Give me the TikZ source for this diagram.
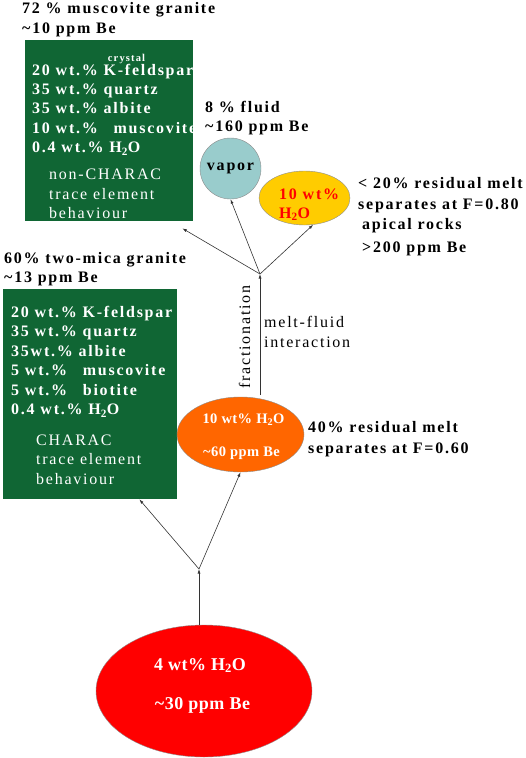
\documentclass[tikz,border=0pt]{standalone}
\usepackage{fontspec}
\setmainfont{Liberation Serif}[LetterSpace=11]
\usetikzlibrary{shapes.geometric,arrows.meta}

\definecolor{granitegreen}{RGB}{16,102,52}
\definecolor{vaporblue}{RGB}{153,204,204}
\definecolor{fluidgold}{RGB}{255,204,0}
\definecolor{meltorange}{RGB}{255,102,0}
\definecolor{meltred}{RGB}{255,0,0}

\newcommand{\water}{H\textsubscript{2}O}

\begin{document}
\begin{tikzpicture}[x=1pt, y=-1pt,
    txt/.style={inner sep=0pt, anchor=base west, font=\fontsize{16}{19}\selectfont},
    boldtxt/.style={txt, font=\fontsize{16}{19}\selectfont\bfseries},
    granite/.style={fill=granitegreen, inner sep=0pt, anchor=north west},
    meltshape/.style={ellipse, draw=black!45, line width=0.4pt, inner sep=0pt},
    arr/.style={draw=black!80, line width=0.6pt, -{Latex[length=4.5pt,width=3pt]}}]

    \useasboundingbox (0,0) rectangle (526,758);

    % Upper granite: muscovite granite
    \node[boldtxt] (mus-title) at (22,13) {72 \% muscovite granite};
    \node[boldtxt] (mus-be) at (22,33) {\textasciitilde10 ppm Be};
    \node[granite, minimum width=168pt, minimum height=181pt] (musbox) at (25,40) {};
    \node[inner sep=0pt, anchor=base, white, font=\fontsize{10.5}{12}\selectfont\bfseries] (mus-crystal) at (126.5,61) {crystal};
    \foreach \line [count=\i] in {20 wt.\% K-feldspar, 35 wt.\% quartz, 35 wt.\% albite,
        10 wt.\%\hspace{10pt} muscovite, 0.4 wt.\% \water}
        \node[boldtxt, white] (mus-\i) at (32, 75+19.4*\i-19.4) {\line};
    \foreach \line [count=\i] in {non-CHARAC, trace element, behaviour}
        \node[txt, white] (mus-note-\i) at (49, 179.5+19.5*\i-19.5) {\line};

    % Lower granite: two-mica granite
    \node[boldtxt] (two-title) at (4,263) {60\% two-mica granite};
    \node[boldtxt] (two-be) at (4,282) {\textasciitilde13 ppm Be};
    \node[granite, minimum width=174pt, minimum height=210pt] (twobox) at (3,289) {};
    \foreach \line [count=\i] in {20 wt.\% K-feldspar, 35 wt.\% quartz, 35wt.\% albite,
        5 wt.\%\hspace{10pt} muscovite, 5 wt.\%\hspace{10pt} biotite, 0.4 wt.\% \water}
        \node[boldtxt, white] (two-\i) at (11, 317+19.5*\i-19.5) {\line};
    \foreach \line [count=\i] in {CHARAC, trace element, behaviour}
        \node[txt, white] (two-note-\i) at (36, 445+19.5*\i-19.5) {\line};

    % Fluid phases
    \node[boldtxt] (fl-title) at (205,112) {8 \% fluid};
    \node[boldtxt] (fl-be) at (205,131) {\textasciitilde160 ppm Be};
    \node[circle, fill=vaporblue, draw=black!45, line width=0.4pt, minimum size=61pt,
        inner sep=0pt, font=\fontsize{16}{19}\selectfont\bfseries] (vapor) at (230.5,168.5) {vapor};
    \node[meltshape, fill=fluidgold, minimum width=91pt, minimum height=54pt] (fluid) at (304.5,198) {};
    \node[boldtxt, meltred] (fluid-wt) at (279,199) {10 wt\%};
    \node[boldtxt, meltred] (fluid-h2o) at (279,218) {\water};

    \node[boldtxt] (res1-a) at (358,188.5) {< 20\% residual melt};
    \node[boldtxt] (res1-b) at (358,209) {separates at F=0.80};
    \node[boldtxt] (apical-a) at (362,229.5) {apical rocks};
    \node[boldtxt] (apical-b) at (362,252) {>200 ppm Be};

    % Residual melt
    \node[meltshape, fill=meltorange, minimum width=127pt, minimum height=75pt] (residue) at (240.5,434.5) {};
    \node[inner sep=0pt, anchor=base, white, font=\fontsize{14.5}{17}\selectfont\bfseries\addfontfeature{LetterSpace=3}]
        (residue-wt) at (243.5,423) {10 wt\% \water};
    \node[inner sep=0pt, anchor=base, white, font=\fontsize{14.5}{17}\selectfont\bfseries\addfontfeature{LetterSpace=3}]
        (residue-be) at (241.5,456) {\textasciitilde60 ppm Be};
    \node[boldtxt] (res2-a) at (308,432.5) {40\% residual melt};
    \node[boldtxt] (res2-b) at (308,453) {separates at F=0.60};

    \node[txt] (mf-a) at (264,327) {melt-fluid};
    \node[txt] (mf-b) at (264,347) {interaction};
    \node[txt, rotate=90, anchor=base] (frac) at (250,337) {fractionation};

    % Source melt
    \node[meltshape, fill=meltred, minimum width=216pt, minimum height=132pt] (source) at (204,691) {};
    \node[inner sep=0pt, anchor=base, white, font=\fontsize{18}{21}\selectfont\bfseries\addfontfeature{LetterSpace=3}]
        (source-wt) at (200,670) {4 wt\% \water};
    \node[inner sep=0pt, anchor=base, white, font=\fontsize{18}{21}\selectfont\bfseries\addfontfeature{LetterSpace=3}]
        (source-be) at (202.5,709) {\textasciitilde30 ppm Be};

    % Branch points and connectors
    \coordinate (split-top) at (260,274);
    \coordinate (split-low) at (199,569);
    \coordinate (frac-foot) at (260,395);

    \draw[arr] (frac-foot) -- (split-top);
    \draw[arr] (split-top) -- ([shift={(-11,7)}]musbox.south east);
    \draw[arr] (split-top) -- (vapor.south);
    \draw[arr] (split-top) -- (fluid.-72);

    \draw[arr] (source.north -| split-low) -- (split-low);
    \draw[arr] (split-low) -- ([xshift=-38pt]twobox.south east);
    \draw[arr] (split-low) -- (residue.south);

\end{tikzpicture}
\end{document}
